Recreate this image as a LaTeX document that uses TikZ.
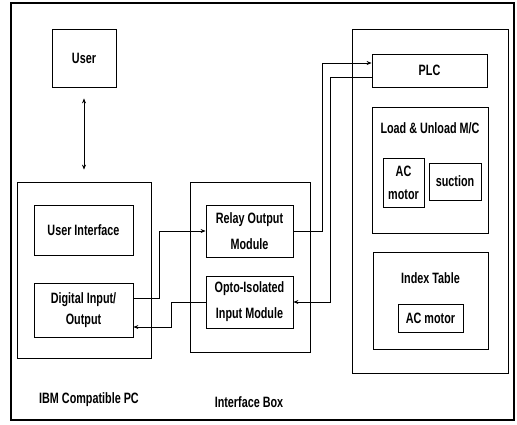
\documentclass[tikz,border=0pt]{standalone}
\usepackage{fontspec}
\setmainfont{Liberation Sans}[FakeStretch=0.72]
\usepackage{tikz}
\usetikzlibrary{arrows.meta, positioning, calc}

\begin{document}
\begin{tikzpicture}[x=1pt, y=-1pt, every node/.style={font=\fontsize{15}{18}\selectfont\bfseries},
    unit/.style={draw, line width=0.8pt, inner sep=0pt, align=center},
    group/.style={draw, line width=0.8pt, inner sep=0pt},
    link/.style={line width=0.7pt, -{Stealth[length=5pt, width=4pt]}},
    caption/.style={anchor=center} ]

    % Page frame
    \useasboundingbox (0,0) rectangle (517,424);
    \draw[line width=1.6pt] (11,3) rectangle (514,420);

    % User
    \node[unit, minimum width=64pt, minimum height=58pt] (user) at (84,58) {User};

    % IBM compatible PC
    \node[group, minimum width=134pt, minimum height=176pt] (pcbox) at (84,270) {};
    \node[unit, minimum width=99pt, minimum height=50pt] (ui) at (83.5,230) {User Interface};
    \node[unit, minimum width=99pt, minimum height=54pt] (dio) at (83.5,310) {Digital Input/\\[3pt]Output};
    \node[caption] (pclabel) at (89,400) {IBM Compatible PC};

    % Interface box
    \node[group, minimum width=120pt, minimum height=170pt] (ifbox) at (250,267) {};
    \node[unit, minimum width=87pt, minimum height=52pt] (relay) at (249.5,231) {Relay Output\\[8pt]Module};
    \node[unit, minimum width=87pt, minimum height=52pt] (opto) at (249.5,302) {Opto-Isolated\\[8pt]Input Module};
    \node[caption] (iflabel) at (249,402) {Interface Box};

    % Machine side
    \node[group, minimum width=156pt, minimum height=344pt] (plant) at (430,201) {};
    \node[unit, minimum width=115pt, minimum height=33pt] (plc) at (429.5,70.5) {PLC};

    \node[group, minimum width=116pt, minimum height=126pt] (loadmc) at (430,170) {};
    \node[caption] (loadlabel) at (430,128) {Load \& Unload M/C};
    \node[unit, minimum width=41pt, minimum height=49pt] (acmotor) at (403.5,182.5) {AC\\[5pt]motor};
    \node[unit, minimum width=52pt, minimum height=37pt] (suction) at (455,181.5) {suction};

    \node[group, minimum width=115pt, minimum height=97pt] (index) at (430.5,300.5) {};
    \node[caption] (indexlabel) at (430.5,278) {Index Table};
    \node[unit, minimum width=65pt, minimum height=28pt] (tablemotor) at (430.5,318) {AC motor};

    % User <-> PC
    \draw[line width=0.7pt, {Stealth[length=5pt, width=4pt]}-{Stealth[length=5pt, width=4pt]},
      shorten <=11pt, shorten >=12pt] (user.south) -- (pcbox.north);

    % PC <-> interface box
    \draw[link] ([yshift=12pt]dio.east) -- ++(26,0) |- (relay.west);
    \draw[link] (opto.west) -- ++(-34,0) |- ([yshift=-17pt]dio.east);

    % Interface box <-> PLC
    \draw[link] (relay.east) -- ++(29,0) |- ([yshift=7.5pt]plc.west);
    \draw[link] ([yshift=-6.5pt]plc.west) -- ++(-41,0) |- (opto.east);

\end{tikzpicture}
\end{document}
